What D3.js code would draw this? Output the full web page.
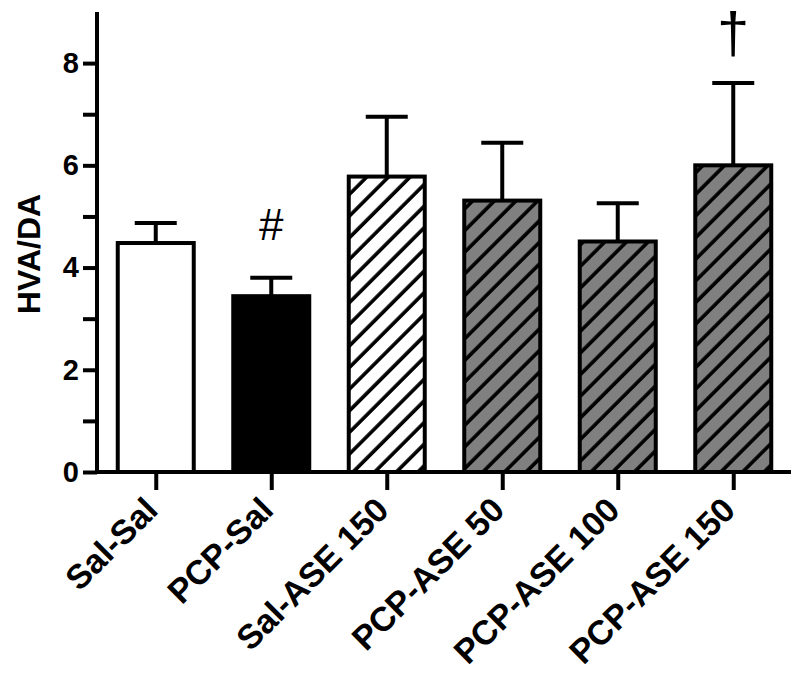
<!DOCTYPE html>
<html>
<head>
<meta charset="utf-8">
<script src="https://cdn.jsdelivr.net/npm/d3@7"></script>
<style>
  body { margin: 0; background: #fff; }
  svg { display: block; }
  text { font-family: "Liberation Sans", Arial, sans-serif; }
</style>
</head>
<body>
<div id="chart"></div>
<script>
// data
var groups = ["Sal-Sal", "PCP-Sal", "Sal-ASE 150", "PCP-ASE 50", "PCP-ASE 100", "PCP-ASE 150"];
var means  = [4.48, 3.44, 5.78, 5.31, 4.51, 6.0];
var errs   = [0.39, 0.36, 1.17, 1.13, 0.75, 1.61];
var fills  = ["white", "black", "hatchWhite", "hatchGray", "hatchGray", "hatchGray"];
var marks  = ["", "#", "", "", "", "\u2020"];
var yTicks = [0, 1, 2, 3, 4, 5, 6, 7, 8];

var width = 800, height = 682;
var x0 = 97, x1 = 791, yTop = 12, yBase = 472;

var svg = d3.select("#chart").append("svg")
    .attr("width", width)
    .attr("height", height);

var defs = svg.append("defs");
function hatch(id, bg) {
    var p = defs.append("pattern")
        .attr("id", id)
        .attr("patternUnits", "userSpaceOnUse")
        .attr("width", 15.3)
        .attr("height", 15.3)
        .attr("patternTransform", "rotate(45)");
    p.append("rect").attr("width", 15.3).attr("height", 15.3).attr("fill", bg);
    p.append("line")
        .attr("x1", 2).attr("y1", 0).attr("x2", 2).attr("y2", 15.3)
        .attr("stroke", "black").attr("stroke-width", 3.6);
}
hatch("hatchWhite", "white");
hatch("hatchGray", "#808080");

var x = d3.scalePoint().domain(groups).range([x0 + 1, x1]).padding(0.5);
var y = d3.scaleLinear().domain([0, 9]).range([yBase, yTop]);

var barW = 76;

// error bars (drawn first so bar outline covers the base)
var eb = svg.append("g");
groups.forEach(function(g, i) {
    var cx = x(g);
    eb.append("line")
        .attr("x1", cx).attr("x2", cx)
        .attr("y1", y(means[i])).attr("y2", y(means[i] + errs[i]))
        .attr("stroke", "black").attr("stroke-width", 4);
    eb.append("line")
        .attr("x1", cx - 21).attr("x2", cx + 21)
        .attr("y1", y(means[i] + errs[i])).attr("y2", y(means[i] + errs[i]))
        .attr("stroke", "black").attr("stroke-width", 4);
});

svg.append("g").selectAll("rect")
    .data(groups)
    .join("rect")
    .attr("x", function(d) { return x(d) - barW / 2; })
    .attr("y", function(d, i) { return y(means[i]); })
    .attr("width", barW)
    .attr("height", function(d, i) { return yBase - y(means[i]); })
    .attr("fill", function(d, i) {
        return fills[i].indexOf("hatch") === 0 ? "url(#" + fills[i] + ")" : fills[i];
    })
    .attr("stroke", "black")
    .attr("stroke-width", 4);

// significance marks
svg.append("g").selectAll("text")
    .data(groups)
    .join("text")
    .attr("x", function(d) { return x(d); })
    .attr("y", function(d, i) { return y(means[i] + errs[i]) - (i === 5 ? 30 : 38); })
    .attr("text-anchor", "middle")
    .attr("font-size", function(d, i) { return i === 5 ? 58 : 44; })
    .text(function(d, i) { return marks[i]; });

// y axis
var yAxis = d3.axisLeft(y)
    .tickValues(yTicks)
    .tickSize(14)
    .tickPadding(4)
    .tickFormat(function(d) { return d % 2 === 0 ? d : ""; });

var gy = svg.append("g")
    .attr("transform", "translate(" + x0 + ",0)")
    .call(yAxis);
gy.select(".domain").remove();
gy.append("line")
    .attr("x1", 0).attr("x2", 0)
    .attr("y1", yTop).attr("y2", yBase + 2)
    .attr("stroke", "black").attr("stroke-width", 4);
gy.selectAll(".tick line").attr("stroke", "black").attr("stroke-width", 4);
gy.selectAll(".tick text")
    .attr("fill", "black")
    .attr("font-size", 29)
    .attr("font-weight", "bold")
    .attr("font-family", "Liberation Sans, Arial, sans-serif");

// x axis
var xAxis = d3.axisBottom(x).tickSize(18).tickFormat("");
var gx = svg.append("g")
    .attr("transform", "translate(0," + yBase + ")")
    .call(xAxis);
gx.select(".domain").remove();
gx.append("line")
    .attr("x1", x0 - 2).attr("x2", x1)
    .attr("y1", 0).attr("y2", 0)
    .attr("stroke", "black").attr("stroke-width", 4);
gx.selectAll(".tick line").attr("stroke", "black").attr("stroke-width", 4);

svg.append("g").selectAll("text")
    .data(groups)
    .join("text")
    .attr("transform", function(d) { return "translate(" + (x(d) + 4) + "," + (yBase + 40) + ") rotate(-45)"; })
    .attr("text-anchor", "end")
    .attr("font-size", 34)
    .attr("font-weight", "bold")
    .text(function(d) { return d; });

// y axis title
svg.append("text")
    .attr("transform", "translate(40," + 254 + ") rotate(-90)")
    .attr("text-anchor", "middle")
    .attr("font-size", 32)
    .attr("font-weight", "bold")
    .text("HVA/DA");
</script>
</body>
</html>
